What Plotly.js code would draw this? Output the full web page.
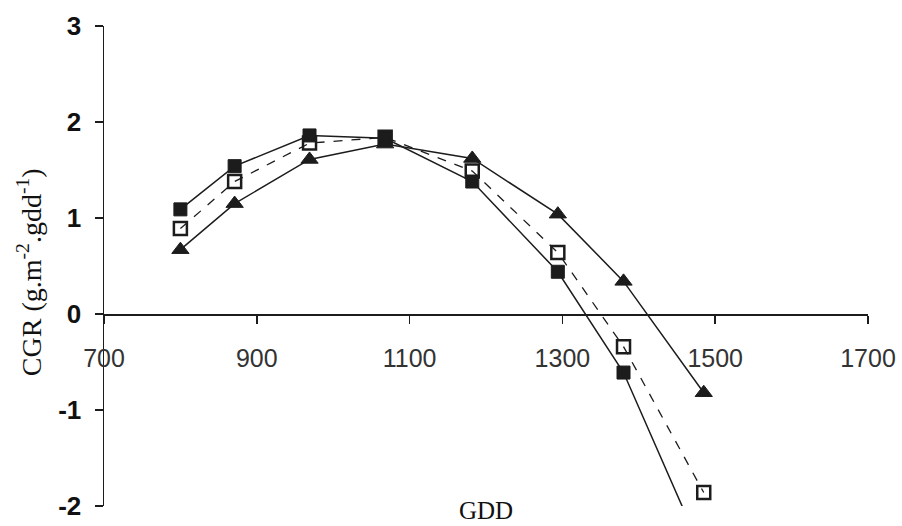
<!DOCTYPE html>
<html>
<head>
<meta charset="utf-8">
<script src="https://cdn.plot.ly/plotly-3.0.1.min.js"></script>
<style>html,body{margin:0;padding:0;background:#fff;}#chart{width:902px;height:526px;}</style>
</head>
<body>
<div id="chart"></div>
<script>
const gdd = [800, 871, 969, 1068, 1182, 1294, 1380, 1482];
const filledSquare = [1.09, 1.54, 1.86, 1.83, 1.38, 0.44, -0.61, -2.46];
const gddOpen = [800, 871, 969, 1068, 1182, 1294, 1380, 1485];
const openSquare = [0.89, 1.38, 1.78, 1.84, 1.49, 0.64, -0.34, -1.86];
const gddTri = [800, 871, 969, 1068, 1182, 1294, 1380, 1485];
const triangle = [0.67, 1.15, 1.61, 1.77, 1.62, 1.04, 0.34, -0.82];
const xTicks = [700, 900, 1100, 1300, 1500, 1700];
const yTicks = [-2, -1, 0, 1, 2, 3];

const ink = '#1c1c1c';
const traces = [
  {x: gdd, y: filledSquare, mode: 'lines+markers',
   line: {color: ink, width: 1.5},
   marker: {symbol: 'square', size: 13, color: ink, line: {color: ink, width: 1}}},
  {x: gddOpen, y: openSquare, mode: 'lines+markers',
   line: {color: ink, width: 1.3, dash: 'dash'},
   marker: {symbol: 'square-open', size: 13, color: ink, line: {color: ink, width: 2.5}}},
  {x: gddTri, y: triangle, mode: 'lines+markers',
   line: {color: ink, width: 1.5},
   marker: {symbol: 'triangle-up', size: 15, color: ink, line: {color: ink, width: 1}}}
];

const layout = {
  width: 902, height: 526,
  margin: {l: 104, r: 34, t: 26, b: 20},
  paper_bgcolor: '#fff', plot_bgcolor: '#fff',
  showlegend: false,
  xaxis: {
    range: [700, 1700], tickvals: xTicks, ticktext: xTicks.map(String),
    anchor: 'free', position: 0.4,
    showline: true, linecolor: ink, linewidth: 1.5,
    ticks: 'outside', ticklen: 8, tickcolor: ink, tickwidth: 1.5,
    ticklabelstandoff: 13,
    showgrid: false, zeroline: false,
    tickfont: {family: 'Liberation Sans, Arial, sans-serif', size: 25, color: '#333'}
  },
  yaxis: {
    range: [-2, 3], tickvals: yTicks, ticktext: yTicks.map(String),
    showline: true, linecolor: ink, linewidth: 1.5,
    ticks: 'outside', ticklen: 8, tickcolor: ink, tickwidth: 1.5,
    ticklabelstandoff: 8,
    showgrid: false, zeroline: false,
    tickfont: {family: 'Liberation Sans, Arial, sans-serif', size: 26, color: '#111', weight: 'bold'}
  },
  annotations: [
    {text: 'GDD', xref: 'paper', yref: 'paper', x: 0.5, y: -0.0104, yanchor: 'middle', xanchor: 'center',
     showarrow: false, font: {family: 'Liberation Serif, Times New Roman, serif', size: 25, color: '#111'}},
    {text: 'CGR (g.m<sup>-2</sup>.gdd<sup>-1</sup>)', xref: 'paper', yref: 'paper',
     x: -0.098, y: 0.4875, xanchor: 'center', yanchor: 'middle', textangle: -90,
     showarrow: false, font: {family: 'Liberation Serif, Times New Roman, serif', size: 28, color: '#111'}}
  ]
};

Plotly.newPlot('chart', traces, layout, {displayModeBar: false, staticPlot: true});
</script>
</body>
</html>
